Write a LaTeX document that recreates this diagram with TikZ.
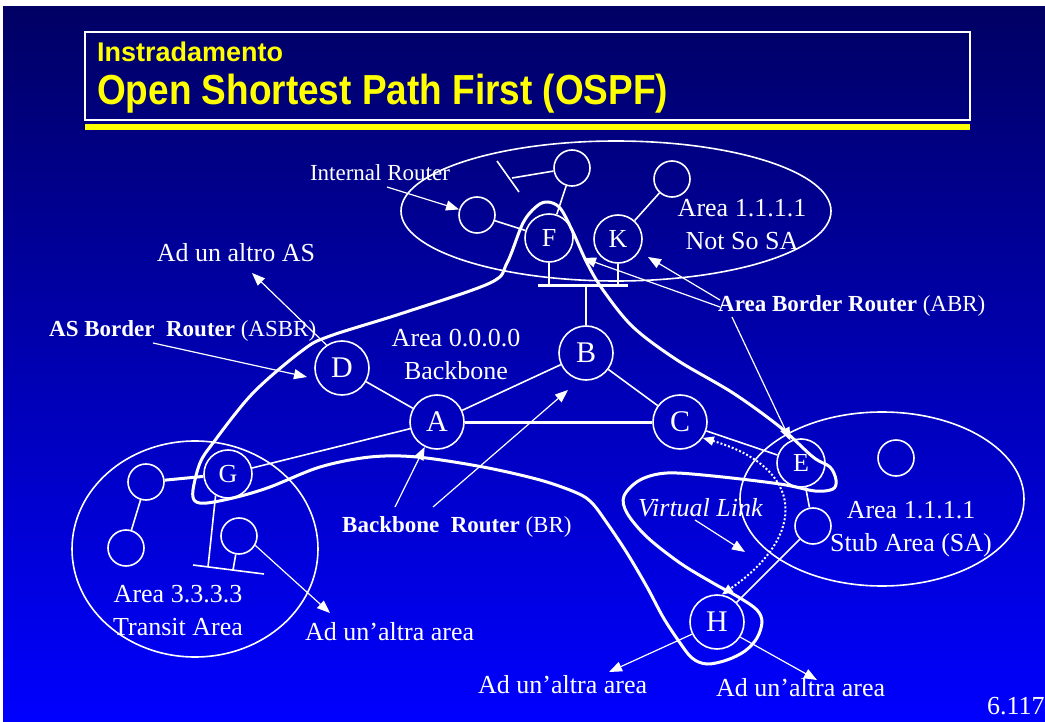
\documentclass[tikz,border=0pt]{standalone}
\usepackage{fontspec}
\setmainfont{Liberation Serif}
\newfontfamily\titlefont{Liberation Sans}
\newfontfamily\titlenarrow[FakeStretch=0.88]{Liberation Sans}
\usetikzlibrary{arrows.meta}
\definecolor{slidetop}{RGB}{0,0,100}
\definecolor{slidebot}{RGB}{0,0,255}
\definecolor{titleyellow}{RGB}{255,255,0}

\begin{document}
\begin{tikzpicture}[x=1pt,y=-1pt,>={Triangle[length=13pt,width=10pt]},
  router/.style={circle,draw=white,line width=1.6pt,minimum size=54pt,inner sep=0pt,text=white,font=\fontsize{30}{30}\selectfont},
  smallrouter/.style={router,minimum size=48pt,font=\fontsize{26}{26}\selectfont},
  host/.style={circle,draw=white,line width=1.6pt,minimum size=36pt,inner sep=0pt},
  link/.style={draw=white,line width=1.6pt},
  trunk/.style={draw=white,line width=3pt},
  lbl/.style={text=white,font=\fontsize{26}{33}\selectfont,align=center,inner sep=0pt},
  smalllbl/.style={lbl,font=\fontsize{23}{28}\selectfont},
  arr/.style={->,draw=white,line width=1.2pt}]
\useasboundingbox (0,0) rectangle (1045,722);
% slide background
\fill[white] (0,0) rectangle (1045,722);
\shade[top color=slidetop,bottom color=slidebot] (3,7) rectangle (1045,722);
\draw[white,line width=1.5pt] (85,32) rectangle (970,120);
\fill[titleyellow] (85,124) rectangle (970,130);
\node[anchor=base west,inner sep=0pt,text=titleyellow,font=\titlefont\bfseries\fontsize{27}{27}\selectfont] (title1) at (97,62) {Instradamento};
\node[anchor=base west,inner sep=0pt,text=titleyellow,font=\titlenarrow\bfseries\fontsize{42}{42}\selectfont] (title2) at (97,105) {Open Shortest Path First (OSPF)};

% areas
\draw[white,line width=1.6pt] (616,211) ellipse [x radius=215,y radius=70];
\draw[white,line width=1.6pt] (882,499) ellipse [x radius=142,y radius=87];
\draw[white,line width=1.6pt] (195,549) ellipse [x radius=123,y radius=108];

% backbone boundary
\draw[white,line width=3pt] plot[smooth cycle,tension=0.55] coordinates {
  (193,490) (200,463) (213,443) (253,393) (303,350) (330,336) (403,313)
  (490,283) (507,263) (523,223) (537,206) (548,202) (560,208) (572,230)
  (587,263) (603,290) (633,327) (677,360) (733,393) (780,427) (813,457)
  (830,467) (836,480) (833,489) (815,491) (780,484) (713,476) (667,473)
  (640,480) (624,496) (627,513) (647,537) (680,563) (713,583) (740,598)
  (757,610) (762,622) (757,638) (745,651) (727,660) (707,664) (692,658)
  (678,640) (663,617) (647,587) (627,553) (607,523) (592,503) (577,493)
  (540,480) (483,467) (417,457) (370,457) (320,467) (270,487) (237,497)
  (207,503) (195,501)};

% routers
\node[router] (A) at (437,422) {A};
\node[router] (B) at (586,353) {B};
\node[router] (C) at (680,422) {C};
\node[router] (D) at (342,368) {D};
\node[router] (H) at (717,622) {H};
\node[smallrouter] (E) at (801,463) {E};
\node[smallrouter] (F) at (549,238) {F};
\node[smallrouter] (K) at (618,239) {K};
\node[smallrouter] (G) at (228,474) {G};

% hosts
\node[host] (h1) at (572,168) {};
\node[host] (h2) at (477,215) {};
\node[host] (h3) at (672,179) {};
\node[host] (h4) at (146,482) {};
\node[host] (h5) at (126,548) {};
\node[host] (h6) at (239,536) {};
\node[host] (h7) at (896,458) {};
\node[host] (h8) at (813,526) {};

% lan segments
\coordinate (nb1) at (497,161);
\coordinate (nb2) at (519,192);
\coordinate (nbm) at (512,178);
\coordinate (fkl) at (538,286);
\coordinate (fkr) at (628,286);
\coordinate (fbar) at (549,286);
\coordinate (kbar) at (618,286);
\coordinate (bbar) at (586,286);
\coordinate (gl) at (193,565);
\coordinate (gr) at (264,574);
\coordinate (gbar) at (208,567);
\coordinate (h6bar) at (233,570);
\draw[link] (nb1) -- (nb2);
\draw[link] (nbm) -- (h1);
\draw[link,line width=3pt] (fkl) -- (fkr);
\draw[link,line width=2.5pt] (F) -- (fbar);
\draw[link,line width=2.5pt] (K) -- (kbar);
\draw[link,line width=2.5pt] (B) -- (bbar);
\draw[link] (gl) -- (gr);
\draw[link] (G.240) -- (gbar);
\draw[link] (h6) -- (h6bar);

% links
\draw[link] (D) -- (A);
\draw[link] (A) -- (B);
\draw[link] (B) -- (C);
\draw[trunk] (A) -- (C);
\draw[link] (A) -- (G);
\draw[link] (C) -- (E);
\draw[link] (h1) -- (F);
\draw[link] (h2) -- (F);
\draw[link] (K) -- (h3);
\draw[trunk] (h4) -- (G);
\draw[link] (h4) -- (h5);
\draw[link] (E) -- (h8);
\draw[link] (h8) -- (H);

% virtual link
\draw[white,line width=2pt,dotted,{Triangle[length=11pt,width=9pt]}-{Triangle[length=11pt,width=9pt]}]
  (C.-35) .. controls (805,468) and (808,535) .. (H.80);

% labels
\node[smalllbl,anchor=base] (irlbl) at (380,181) {Internal Router};
\node[lbl,anchor=base] (aslbl) at (236,262) {Ad un altro AS};
\node[smalllbl,anchor=base west] (asbrlbl) at (49,337) {\textbf{AS Border\ \ Router} (ASBR)};
\node[lbl] (bblbl) at (456,354) {Area 0.0.0.0\\Backbone};
\node[lbl] (nssalbl) at (742,225) {Area 1.1.1.1\\Not So SA};
\node[smalllbl,anchor=base west] (abrlbl) at (718,312) {\textbf{Area Border Router} (ABR)};
\node[smalllbl,anchor=base west] (brlbl) at (342,532) {\textbf{Backbone\ \ Router} (BR)};
\node[lbl] (tralbl) at (178,611) {Area 3.3.3.3\\Transit Area};
\node[lbl] (stublbl) at (911,529) {Area 1.1.1.1\\Stub Area (SA)};
\node[lbl,anchor=base west,font=\fontsize{26}{33}\selectfont\itshape] (vllbl) at (638,516) {Virtual Link};
\node[lbl,anchor=base west] (other1) at (305,640) {Ad un’altra area};
\node[lbl,anchor=base west] (other2) at (478,693) {Ad un’altra area};
\node[lbl,anchor=base west] (other3) at (716,696) {Ad un’altra area};
\node[lbl,anchor=base west] (pagenum) at (987,714) {6.117};

% pointers
\coordinate (irstart) at (387,187);
\coordinate (asend) at (252,273);
\coordinate (asbrstart) at (153,343);
\coordinate (asbrend) at (307,377);
\coordinate (abrF) at (720,307);
\coordinate (abrFend) at (583,258);
\coordinate (abrK) at (720,300);
\coordinate (abrKend) at (648,257);
\coordinate (abrE) at (732,317);
\coordinate (brA) at (395,507);
\coordinate (brB) at (433,507);
\coordinate (brBend) at (568,390);
\coordinate (vlstart) at (695,520);
\coordinate (vlend) at (745,552);
\coordinate (out1) at (330,613);
\coordinate (out2) at (609,672);
\coordinate (out3) at (817,680);
\draw[arr] (irstart) -- (h2);
\draw[arr] (D.124) -- (asend);
\draw[arr] (asbrstart) -- (asbrend);
\draw[arr] (abrF) -- (abrFend);
\draw[arr] (abrK) -- (abrKend);
\draw[arr] (abrE) -- (E);
\draw[arr] (brA) -- (A);
\draw[arr] (brB) -- (brBend);
\draw[arr] (vlstart) -- (vlend);
\draw[arr] (h6.-30) -- (out1);
\draw[arr] (H.206) -- (out2);
\draw[arr] (H.-33) -- (out3);
\end{tikzpicture}
\end{document}
